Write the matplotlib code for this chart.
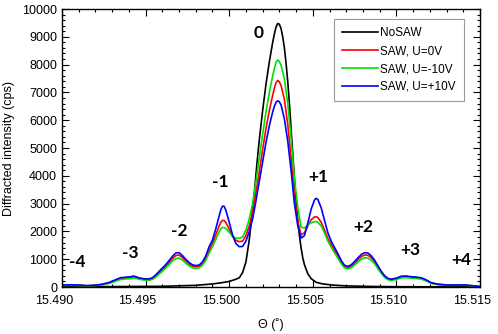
import matplotlib
matplotlib.use("Agg")
import matplotlib.pyplot as plt
import matplotlib.transforms as mtransforms
from matplotlib.ticker import MultipleLocator, FormatStrFormatter


# shared angle grid for the three SAW curves
theta_saw = [
    15.4900, 15.4905, 15.4910, 15.4915, 15.4920, 15.4924, 15.4928, 15.4932,
    15.4935, 15.4938, 15.4941, 15.4943, 15.4946, 15.4949, 15.4952, 15.4954,
    15.4956, 15.4958, 15.4960, 15.4962, 15.4964, 15.4966, 15.4968, 15.4970,
    15.4972, 15.4974, 15.4976, 15.4978, 15.4980, 15.4982, 15.4984, 15.4986,
    15.4988, 15.4990, 15.4992, 15.4994, 15.4995, 15.4996, 15.4997, 15.4998,
    15.5000, 15.5002, 15.5004, 15.5006, 15.5008, 15.5010, 15.5012, 15.5014,
    15.5016, 15.5018, 15.5020, 15.5022, 15.5024, 15.5026, 15.5027, 15.5028,
    15.5029, 15.5030, 15.5031, 15.5033, 15.5035, 15.5037, 15.5039, 15.5041,
    15.5043, 15.5045, 15.5047, 15.5049, 15.5051, 15.5052, 15.5053, 15.5055,
    15.5057, 15.5059, 15.5061, 15.5063, 15.5065, 15.5067, 15.5069, 15.5071,
    15.5073, 15.5075, 15.5077, 15.5079, 15.5081, 15.5083, 15.5085, 15.5087,
    15.5089, 15.5091, 15.5093, 15.5095, 15.5097, 15.5100, 15.5103, 15.5106,
    15.5109, 15.5112, 15.5115, 15.5118, 15.5121, 15.5125, 15.5130, 15.5135,
    15.5140, 15.5145, 15.5150,
]

saw_0v = [
    60, 70, 60, 45, 60, 90, 145, 240,
    310, 330, 345, 365, 310, 275, 270, 305,
    400, 520, 630, 750, 880, 1020, 1130, 1150,
    1060, 940, 830, 750, 725, 745, 840, 1040,
    1320, 1560, 1880, 2200, 2330, 2400, 2390, 2320,
    2080, 1820, 1680, 1630, 1650, 1850, 2200, 2700,
    3400, 4150, 4950, 5700, 6350, 6900, 7150, 7350,
    7430, 7380, 7250, 6750, 5850, 4650, 3250, 2350,
    1880, 1950, 2200, 2420, 2520, 2530, 2500, 2330,
    2050, 1750, 1520, 1320, 1120, 900, 740, 700,
    750, 860, 980, 1090, 1150, 1140, 1050, 900,
    710, 520, 370, 290, 260, 300, 365, 370,
    350, 335, 310, 235, 140, 95, 70, 65,
    70, 45, 15,
]

saw_m10v = [
    50, 60, 50, 40, 50, 75, 125, 205,
    270, 290, 305, 325, 280, 250, 245, 270,
    350, 460, 560, 680, 800, 930, 1020, 1040,
    970, 860, 760, 690, 665, 690, 780, 960,
    1220, 1450, 1720, 1980, 2090, 2140, 2140, 2100,
    1970, 1830, 1760, 1750, 1800, 2050, 2450, 3000,
    3800, 4650, 5500, 6300, 7000, 7600, 7850, 8080,
    8165, 8110, 7980, 7480, 6600, 5350, 3900, 2850,
    2150, 2120, 2230, 2310, 2350, 2350, 2330, 2200,
    1950, 1650, 1430, 1230, 1040, 840, 690, 650,
    690, 790, 900, 1000, 1050, 1040, 960, 830,
    650, 480, 340, 260, 235, 270, 330, 335,
    320, 305, 285, 210, 125, 85, 60, 60,
    65, 40, 10,
]

saw_p10v = [
    70, 80, 70, 50, 65, 100, 160, 260,
    335, 350, 370, 395, 330, 295, 290, 330,
    430, 560, 680, 800, 950, 1100, 1220, 1240,
    1130, 1000, 880, 800, 770, 790, 900, 1120,
    1450, 1690, 2100, 2560, 2780, 2910, 2900, 2760,
    2330, 1870, 1560, 1450, 1460, 1650, 2000, 2450,
    3100, 3800, 4500, 5200, 5800, 6300, 6500, 6640,
    6700, 6660, 6550, 6050, 5250, 4200, 3000, 2200,
    1760, 1850, 2300, 2800, 3130, 3190, 3150, 2850,
    2400, 1950, 1650, 1420, 1200, 950, 780, 740,
    800, 920, 1050, 1170, 1235, 1220, 1120, 960,
    760, 560, 400, 310, 280, 320, 390, 395,
    370, 355, 330, 250, 150, 100, 75, 70,
    75, 50, 15,
]

theta_nosaw = [
    15.4900, 15.4930, 15.4960, 15.4980, 15.4990, 15.4995, 15.5000, 15.5004,
    15.5006, 15.5008, 15.5010, 15.5012, 15.5014, 15.5015, 15.5016, 15.5017,
    15.5018, 15.5020, 15.5022, 15.5024, 15.5026, 15.5027, 15.5028, 15.5029,
    15.5030, 15.5031, 15.5032, 15.5033, 15.5034, 15.5035, 15.5036, 15.5037,
    15.5038, 15.5039, 15.5040, 15.5041, 15.5042, 15.5043, 15.5044, 15.5045,
    15.5047, 15.5049, 15.5052, 15.5056, 15.5062, 15.5070, 15.5085, 15.5100,
    15.5150,
]

nosaw = [
    10, 15, 25, 60, 110, 150, 200, 280,
    330, 520, 900, 1700, 2800, 3350, 4050, 4700,
    5300, 6350, 7300, 8100, 8800, 9100, 9350, 9480,
    9450, 9300, 9000, 8600, 8050, 7400, 6600, 5700,
    4800, 3900, 3100, 2400, 1850, 1400, 1050, 800,
    480, 300, 170, 110, 70, 40, 20, 10,
    5,
]

order_labels = ["-4", "-3", "-2", "-1", "0", "+1", "+2", "+3", "+4"]
order_x = [15.4909, 15.4941, 15.4970, 15.49945, 15.50175,
           15.50533, 15.50802, 15.51081, 15.5139]
order_y = [910, 1234, 2014, 3788, 9126, 3968, 2169, 1331, 971]


plt.rcParams["font.family"] = ["Liberation Sans", "DejaVu Sans"]

fig = plt.figure(figsize=(4.98, 3.34), dpi=100)
ax = fig.add_axes([0.1245, 0.1407, 0.8394, 0.8323])

ax.plot(theta_nosaw, nosaw, color="black", lw=1.2, label="NoSAW")
ax.plot(theta_saw, saw_0v, color="#ff0000", lw=1.2, label="SAW, U=0V")
ax.plot(theta_saw, saw_m10v, color="#00e000", lw=1.2, label="SAW, U=-10V")
ax.plot(theta_saw, saw_p10v, color="#0000ff", lw=1.2, label="SAW, U=+10V")

for lab, x, y in zip(order_labels, order_x, order_y):
    ax.text(x, y, lab, ha="center", va="center", fontsize=12.5,
            fontweight="bold", family=["Lato", "DejaVu Sans"])

ax.set_xlim(15.490, 15.515)
ax.set_ylim(0, 10000)

ax.xaxis.set_major_locator(MultipleLocator(0.005))
ax.xaxis.set_minor_locator(MultipleLocator(0.001))
ax.xaxis.set_major_formatter(FormatStrFormatter("%.3f"))
ax.yaxis.set_major_locator(MultipleLocator(1000))
ax.yaxis.set_minor_locator(MultipleLocator(200))

ax.tick_params(which="both", direction="in", top=True, right=True,
               labelsize=9, width=0.8)
ax.tick_params(which="major", length=5)
ax.tick_params(which="minor", length=2.5)
ax.tick_params(axis="x", which="major", pad=6)

# x tick labels sit a little left of their ticks in the original
shift = mtransforms.ScaledTranslation(-8 / 100, 0, fig.dpi_scale_trans)
for lbl in ax.get_xticklabels():
    lbl.set_transform(lbl.get_transform() + shift)

for side in ax.spines.values():
    side.set_linewidth(1.0)

ax.set_xlabel("Θ (˚)", fontsize=9, labelpad=8)
ax.set_ylabel("Diffracted intensity (cps)", fontsize=9, labelpad=5)

leg = ax.legend(loc="upper right", bbox_to_anchor=(0.962, 0.964),
                borderaxespad=0,
                fontsize=8.5, frameon=True, fancybox=False,
                handlelength=3.0, handletextpad=0.2,
                labelspacing=0.5, borderpad=0.7)
leg.get_frame().set_edgecolor("#808080")
leg.get_frame().set_linewidth(0.8)

fig.savefig("out.png", dpi=100)
